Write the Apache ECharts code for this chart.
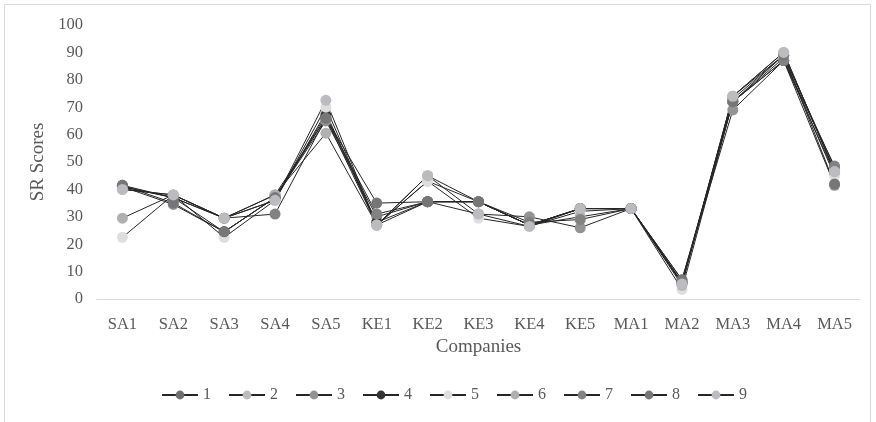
<!DOCTYPE html>
<html>
<head>
<meta charset="utf-8">
<script src="https://cdn.jsdelivr.net/npm/echarts@6/dist/echarts.min.js"></script>
<style>html,body{margin:0;padding:0;background:#fff}#c{width:876px;height:422px}</style>
</head>
<body>
<div id="c"></div>
<script>
const categories = ['SA1','SA2','SA3','SA4','SA5','KE1','KE2','KE3','KE4','KE5','MA1','MA2','MA3','MA4','MA5'];
const yTicks = [0,10,20,30,40,50,60,70,80,90,100];
const seriesNames = ['1','2','3','4','5','6','7','8','9'];
const s1 = [41.5, 37, 29.5, 38, 66, 27, 35.5, 35.5, 27, 33, 33, 6, 73, 89, 48];
const s2 = [40, 38, 29.5, 36, 68, 27, 43, 35.5, 27, 33, 33, 6, 74, 89, 47];
const s3 = [41, 34.5, 24.5, 37, 65, 30, 35.5, 31, 30, 26, 33, 7, 69, 87, 41.5];
const s4 = [41, 37, 24.5, 37, 67, 28, 35.5, 35.5, 27, 33, 33, 6, 72, 87, 46];
const s5 = [22.5, 38, 22.5, 36, 70, 27, 43, 29.5, 26.5, 32, 33, 3.5, 72, 88, 45];
const s6 = [29.5, 38, 29.5, 38, 60.5, 27, 45, 35.5, 27, 30, 33, 5, 74, 90, 46.5];
const s7 = [41, 37, 29.5, 31, 66, 31, 35.5, 35.5, 28, 29, 33, 6, 72, 87, 48.5];
const s8 = [41.5, 35, 24.5, 37, 66, 35, 35.5, 35.5, 27, 33, 33, 7, 72, 89, 42];
const s9 = [40, 38, 29.5, 36, 72.5, 27, 45, 31, 26.5, 33, 33, 5.5, 74, 90, 46.5];
const allData = [s1,s2,s3,s4,s5,s6,s7,s8,s9];
const markerColors = ['#707070','#bdbdbd','#939393','#333333','#dedede','#b0b0b0','#828282','#767676','#bcbcc0'];

const font = '"Liberation Serif", "Times New Roman", serif';
const chart = echarts.init(document.getElementById('c'));
chart.setOption({
  animation: false,
  backgroundColor: '#ffffff',
  graphic: [{
    type: 'rect', shape: {x: 4.5, y: 4.5, width: 866, height: 430},
    style: {fill: 'none', stroke: '#d9d9d9', lineWidth: 1}, silent: true
  }],
  grid: {left: 97, right: 16, top: 25, bottom: 123},
  legend: {
    bottom: 14, left: 156,
    itemWidth: 36, itemHeight: 11, itemGap: 17,
    textStyle: {fontFamily: font, fontSize: 16, color: '#595959'},
    data: seriesNames
  },
  xAxis: {
    type: 'category', data: categories,
    name: 'Companies', nameLocation: 'middle', nameGap: 38,
    nameTextStyle: {fontFamily: font, fontSize: 19, color: '#595959'},
    axisLine: {lineStyle: {color: '#d9d9d9', width: 1}},
    axisTick: {show: false},
    axisLabel: {fontFamily: font, fontSize: 16.5, color: '#595959', margin: 17}
  },
  yAxis: {
    type: 'value', min: 0, max: 100, interval: 10,
    name: 'SR Scores', nameLocation: 'middle', nameGap: 47,
    nameTextStyle: {fontFamily: font, fontSize: 19, color: '#595959'},
    axisLine: {show: false}, axisTick: {show: false},
    splitLine: {show: false},
    axisLabel: {fontFamily: font, fontSize: 16.5, color: '#595959', margin: 14,
      formatter: v => yTicks.includes(v) ? String(v) : ''}
  },
  series: seriesNames.map((n, i) => ({
    name: n, type: 'line', data: allData[i],
    symbol: 'circle', symbolSize: 11,
    itemStyle: {color: markerColors[i], borderWidth: 0},
    lineStyle: {color: '#262626', width: 1}
  }))
});
</script>
</body>
</html>
